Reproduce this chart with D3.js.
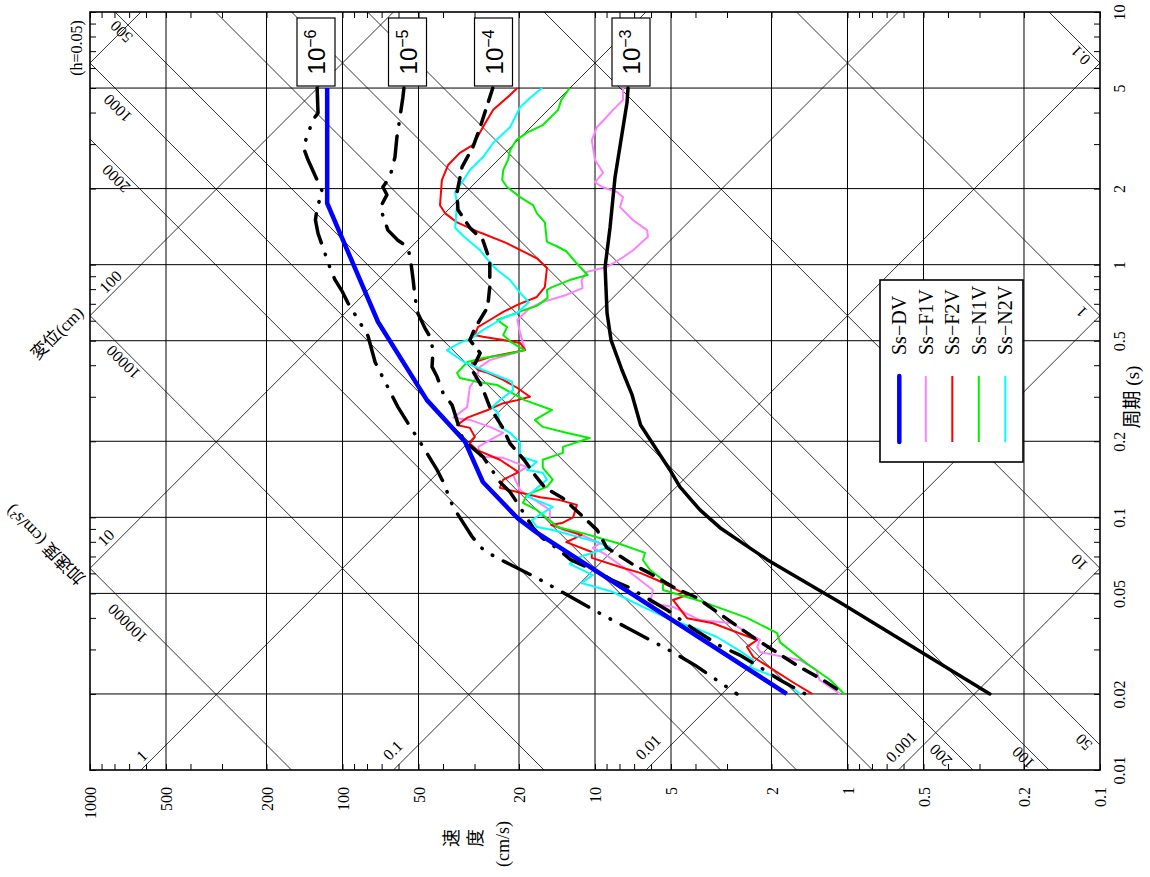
<!DOCTYPE html>
<html>
<head>
<meta charset="utf-8">
<script src="https://cdn.jsdelivr.net/npm/d3@7/dist/d3.min.js"></script>
<style>
  body { margin: 0; background: #fff; }
  text { font-family: "Liberation Serif", "Noto Sans CJK JP", serif; fill: #000; }
</style>
</head>
<body>
<svg id="spectrum" width="1150" height="877"></svg>
<script>
// period T (s) and pseudo velocity V (cm/s)
var periodTicks = [10, 5, 2, 1, 0.5, 0.2, 0.1, 0.05, 0.02, 0.01];
var velocityTicks = [1000, 500, 200, 100, 50, 20, 10, 5, 2, 1, 0.5, 0.2, 0.1];
var accelLines = [0.1, 1, 10, 50, 100, 200, 500, 1000, 2000, 10000, 100000];   // cm/s2
var dispLines = [0.001, 0.01, 0.1, 1, 10, 100, 1000];                        // cm

var seriesNames = ["Ss\u2212DV", "Ss\u2212F1V", "Ss\u2212F2V", "Ss\u2212N1V", "Ss\u2212N2V"];
var hazardNames = ["10\u22126", "10\u22125", "10\u22124", "10\u22123"];

var ssDV = [[5, 115], [1.75, 115], [0.593, 72.3], [0.291, 46.3], [0.199, 32.7], [0.138, 27.8],
  [0.099, 20.2], [0.087, 17.0], [0.02, 1.74]];

var ssF1V = [[5.00, 7.74], [4.49, 7.74], [4.10, 8.48], [3.50, 9.82], [3.11, 10.3], [2.60, 10.0], [2.31, 9.29],
  [2.12, 10.0], [2.03, 9.38], [1.94, 8.18], [1.85, 7.74], [1.69, 7.96], [1.50, 7.07], [1.37, 6.22], [1.29, 6.17],
  [1.14, 7.07], [1.07, 7.74], [0.98, 8.96], [0.935, 10.8], [0.869, 11.3], [0.808, 11.2], [0.759, 13.0],
  [0.712, 16.1], [0.675, 18.1], [0.604, 20.3], [0.536, 19.8], [0.459, 18.9], [0.419, 26.1], [0.394, 28.5],
  [0.360, 29.4], [0.328, 31.3], [0.273, 32.1], [0.248, 36.4], [0.243, 31.3], [0.228, 26.1], [0.216, 23.1],
  [0.202, 26.1], [0.190, 29.0], [0.174, 28.5], [0.172, 23.1], [0.158, 18.6], [0.147, 21.1], [0.128, 19.8],
  [0.107, 15.1], [0.0976, 15.1], [0.0891, 13.4], [0.0851, 11.3], [0.0791, 9.55], [0.0756, 10.2], [0.0723, 9.29],
  [0.0678, 8.48], [0.0636, 7.74], [0.0516, 5.90], [0.0458, 6.05], [0.0442, 4.91], [0.0392, 3.84], [0.0381, 2.85],
  [0.0358, 2.60], [0.0327, 2.22], [0.0307, 2.28], [0.0293, 2.22], [0.0272, 1.54], [0.0249, 1.33], [0.0227, 1.29],
  [0.02, 1.07]];

var ssF2V = [[5.00, 20.3], [4.69, 21.7], [4.10, 25.3], [3.50, 27.8], [2.98, 30.4], [2.77, 34.3], [2.48, 38.2],
  [2.16, 40.4], [1.72, 41.1], [1.60, 39.3], [1.47, 35.2], [1.34, 28.5], [1.22, 22.5], [1.06, 17.0], [0.97, 15.5],
  [0.815, 15.8], [0.745, 17.0], [0.693, 20.3], [0.650, 23.1], [0.604, 26.1], [0.566, 29.1], [0.527, 29.9],
  [0.518, 27.8], [0.503, 23.1], [0.490, 19.8], [0.459, 18.9], [0.447, 21.7], [0.431, 26.1], [0.408, 30.7],
  [0.383, 29.1], [0.373, 26.6], [0.350, 23.1], [0.325, 20.3], [0.300, 18.1], [0.291, 20.3], [0.283, 23.1],
  [0.266, 26.6], [0.248, 32.0], [0.232, 35.2], [0.226, 31.3], [0.208, 29.9], [0.196, 31.3], [0.185, 29.4],
  [0.169, 23.8], [0.151, 20.1], [0.141, 23.1], [0.131, 23.8], [0.126, 20.3], [0.120, 16.5], [0.117, 13.8],
  [0.112, 11.8], [0.100, 12.2], [0.0952, 13.4], [0.0933, 14.9], [0.0851, 11.3], [0.0798, 13.0], [0.0729, 10.3],
  [0.0691, 10.3], [0.0636, 7.96], [0.0603, 6.63], [0.0565, 5.68], [0.0493, 4.32], [0.0471, 4.91], [0.0399, 4.32],
  [0.0381, 3.41], [0.0327, 2.28], [0.0307, 2.50], [0.0280, 2.36], [0.0222, 1.64], [0.02, 1.38]];

var ssN1V = [[5.00, 12.6], [4.49, 13.6], [4.10, 14.0], [3.57, 16.1], [3.33, 18.6], [3.11, 20.5], [2.84, 21.7],
  [2.60, 22.1], [2.37, 23.1], [2.16, 23.3], [2.03, 22.3], [1.85, 19.8], [1.72, 17.6], [1.60, 17.0], [1.47, 15.8],
  [1.23, 15.5], [1.18, 14.1], [1.13, 13.0], [1.02, 11.9], [0.91, 10.7], [0.869, 12.6], [0.815, 14.8],
  [0.794, 15.5], [0.739, 15.4], [0.687, 17.0], [0.662, 19.0], [0.604, 24.4], [0.566, 22.3], [0.527, 23.1],
  [0.494, 21.5], [0.459, 19.0], [0.439, 23.1], [0.427, 27.8], [0.412, 32.0], [0.373, 35.2], [0.356, 34.3],
  [0.344, 29.4], [0.334, 24.4], [0.291, 19.0], [0.266, 14.8], [0.243, 17.3], [0.228, 16.1], [0.216, 13.0],
  [0.206, 10.5], [0.190, 13.4], [0.180, 13.4], [0.169, 16.1], [0.157, 16.1], [0.141, 14.7], [0.132, 15.5],
  [0.123, 18.6], [0.114, 19.3], [0.107, 17.0], [0.0916, 14.1], [0.0868, 11.3], [0.0791, 8.17], [0.0723, 6.34],
  [0.0678, 6.46], [0.0619, 6.05], [0.0565, 5.38], [0.0516, 5.38], [0.0463, 3.74], [0.0400, 2.50], [0.0348, 1.90],
  [0.0320, 1.85], [0.0264, 1.45], [0.0227, 1.17], [0.02, 1.03]];

var ssN2V = [[5.00, 16.2], [4.57, 18.1], [4.20, 19.8], [3.50, 21.7], [3.03, 25.3], [2.66, 27.8], [2.37, 31.3],
  [2.11, 33.7], [1.94, 35.8], [1.75, 35.2], [1.40, 35.8], [1.29, 33.0], [1.14, 28.5], [1.02, 26.1], [0.953, 24.4],
  [0.869, 21.7], [0.773, 19.8], [0.712, 18.3], [0.644, 20.3], [0.615, 23.1], [0.551, 27.8], [0.513, 30.7],
  [0.490, 34.3], [0.459, 38.6], [0.412, 33.0], [0.383, 27.8], [0.360, 23.8], [0.344, 21.3], [0.319, 21.1],
  [0.291, 23.8], [0.273, 25.6], [0.259, 24.2], [0.228, 23.8], [0.216, 21.7], [0.197, 19.8], [0.174, 19.8],
  [0.166, 17.0], [0.154, 18.6], [0.150, 16.1], [0.141, 15.5], [0.121, 18.6], [0.110, 14.7], [0.0976, 17.8],
  [0.0916, 17.0], [0.0891, 14.7], [0.0798, 9.81], [0.0763, 8.72], [0.0697, 11.5], [0.0654, 12.6], [0.0591, 10.2],
  [0.0550, 11.3], [0.0506, 8.48], [0.0442, 6.46], [0.0399, 5.18], [0.0358, 3.84], [0.0336, 3.29], [0.0296, 2.67],
  [0.0272, 2.36], [0.0255, 2.43], [0.0238, 2.03], [0.0222, 1.75], [0.02, 1.54]];

// uniform hazard spectra
var haz1e6 = [[5.00, 126], [3.98, 125], [3.74, 131], [2.92, 143], [2.60, 137], [1.94, 120], [1.69, 126],
  [1.50, 128], [1.33, 125], [0.97, 112], [0.87, 107], [0.78, 100], [0.706, 95.2], [0.523, 79.3], [0.412, 74.3],
  [0.376, 71.0], [0.273, 60.3], [0.222, 53.0], [0.202, 49.8], [0.154, 42.2], [0.138, 39.9], [0.110, 36.5],
  [0.084, 30.7], [0.0763, 28.5], [0.071, 25.6], [0.0666, 22.7], [0.0576, 17.0], [0.0506, 13.5], [0.041, 9.29],
  [0.0364, 7.40], [0.0294, 4.96], [0.026, 4.02], [0.02, 2.74]];

var haz1e5 = [[5.00, 57.1], [4.57, 57.7], [3.84, 59.2], [3.19, 60.9], [2.66, 62.0], [2.22, 64.9], [2.03, 69.2],
  [1.89, 66.7], [1.68, 71.0], [1.60, 69.7], [1.37, 66.1], [1.25, 60.4], [1.18, 55.5], [1.08, 54.0], [0.87, 52.5],
  [0.74, 51.6], [0.64, 50.2], [0.56, 47.1], [0.518, 45.0], [0.459, 43.8], [0.394, 44.2], [0.360, 42.2],
  [0.311, 40.0], [0.278, 36.8], [0.237, 35.0], [0.202, 33.3], [0.174, 27.8], [0.138, 23.8], [0.126, 21.7],
  [0.114, 20.3], [0.091, 17.6], [0.083, 16.2], [0.074, 13.8], [0.068, 12.5], [0.062, 10.2], [0.0565, 8.56],
  [0.053, 7.40], [0.043, 5.18], [0.0365, 4.13], [0.031, 3.20], [0.0285, 2.67], [0.0255, 2.22], [0.0227, 1.85],
  [0.02, 1.47]];

var haz1e4 = [[5.00, 25.4], [3.50, 28.5], [2.93, 30.4], [2.44, 33.6], [1.93, 35.2], [1.65, 34.9], [1.40, 31.3],
  [1.25, 27.8], [1.04, 26.1], [0.82, 26.1], [0.68, 26.6], [0.56, 29.9], [0.503, 31.3], [0.447, 28.5],
  [0.383, 30.7], [0.328, 28.0], [0.273, 26.1], [0.228, 23.3], [0.196, 21.7], [0.169, 19.1], [0.147, 17.3],
  [0.131, 15.8], [0.119, 13.4], [0.101, 11.2], [0.089, 9.8], [0.076, 9.0], [0.065, 7.06], [0.060, 6.05],
  [0.053, 4.91], [0.048, 3.94], [0.042, 3.26], [0.0327, 2.28], [0.0255, 1.54], [0.0227, 1.25], [0.02, 1.03]];

var haz1e3 = [[5.00, 7.40], [4.37, 7.47], [2.22, 8.33], [1.40, 8.72], [0.98, 9.12], [0.644, 8.96], [0.503, 8.64],
  [0.383, 7.82], [0.305, 7.13], [0.232, 6.60], [0.177, 5.53], [0.154, 5.05], [0.132, 4.61], [0.107, 3.84],
  [0.091, 3.20], [0.078, 2.55], [0.068, 2.08], [0.046, 1.07], [0.02, 0.273]];

var svg = d3.select("#spectrum"),
    margin = {top: 12, right: 50, bottom: 107, left: 90},
    width = +svg.attr("width") - margin.left - margin.right,
    height = +svg.attr("height") - margin.top - margin.bottom;

// the chart is laid on its side: velocity runs left to right (high to low), period bottom to top
var x = d3.scaleLog().domain([1000, 0.1]).range([0, width]),
    y = d3.scaleLog().domain([10, 0.01]).range([0, height]);

var fmt = d3.format("~g"),
    TWO_PI = 2 * Math.PI;

svg.append("defs").append("clipPath").attr("id", "plot-area")
  .append("rect").attr("width", width).attr("height", height);

var g = svg.append("g")
    .attr("transform", "translate(" + margin.left + "," + margin.top + ")");

// grid
g.append("g").selectAll("line")
  .data(velocityTicks.filter(function(d) { return d < 1000 && d > 0.1; }))
  .enter().append("line")
    .attr("x1", function(d) { return x(d); }).attr("x2", function(d) { return x(d); })
    .attr("y1", 0).attr("y2", height)
    .attr("stroke", "#000").attr("stroke-width", 1);

g.append("g").selectAll("line")
  .data(periodTicks.filter(function(d) { return d < 10 && d > 0.01; }))
  .enter().append("line")
    .attr("y1", function(d) { return y(d); }).attr("y2", function(d) { return y(d); })
    .attr("x1", 0).attr("x2", width)
    .attr("stroke", "#000").attr("stroke-width", 1);

// tripartite lines: constant acceleration A = 2*pi*V/T, constant displacement D = V*T/(2*pi)
var tEnds = [0.001, 100];
var diag = g.append("g").attr("clip-path", "url(#plot-area)")
    .attr("fill", "none").attr("stroke", "#000").attr("stroke-width", 0.8);

diag.selectAll(".acc").data(accelLines).enter().append("path")
    .attr("class", "acc")
    .attr("d", function(a) { return d3.line()(tEnds.map(function(t) { return [x(a * t / TWO_PI), y(t)]; })); });

diag.selectAll(".dsp").data(dispLines).enter().append("path")
    .attr("class", "dsp")
    .attr("d", function(dd) { return d3.line()(tEnds.map(function(t) { return [x(TWO_PI * dd / t), y(t)]; })); });

// where along each line its label sits (period), and the gap to the line
var accelLabelAt = [[500, 8.88, 9], [1000, 4.51, 12], [2000, 2.33, 9], [10000, 0.437, 9], [100000, 0.0412, 12],
  [0.1, 7.11, 8], [1, 0.695, 10], [10, 0.0709, 10], [50, 0.0137, 9], [100, 0.0119, 9], [200, 0.0124, 12]];
var dispLabelAt = [[100, 0.805, 9], [10, 0.0777, 10], [1, 0.0107, 9], [0.1, 0.0109, 14], [0.01, 0.0112, 14],
  [0.001, 0.01125, 14]];

var diagText = g.append("g").style("font-size", "16px");

diagText.selectAll(".accl").data(accelLabelAt).enter().append("text")
    .attr("transform", function(d) {
      return "translate(" + x(d[0] * d[1] / TWO_PI) + "," + y(d[1]) + ") rotate(225)";
    })
    .attr("text-anchor", "middle")
    .attr("dy", function(d) { return -(d[2] - 5) + "px"; })
    .text(function(d) { return fmt(d[0]); });

diagText.selectAll(".dspl").data(dispLabelAt).enter().append("text")
    .attr("transform", function(d) {
      return "translate(" + x(TWO_PI * d[0] / d[1]) + "," + y(d[1]) + ") rotate(-45)";
    })
    .attr("text-anchor", "middle")
    .attr("dy", function(d) { return -(d[2] - 5) + "px"; })
    .text(function(d) { return fmt(d[0]); });

// spectra
var line = d3.line()
    .x(function(d) { return x(d[1]); })
    .y(function(d) { return y(d[0]); });

var curves = g.append("g").attr("clip-path", "url(#plot-area)").attr("fill", "none")
    .attr("stroke-linejoin", "round");

var thin = [
  {data: ssF1V, color: "#ff80ff"},
  {data: ssF2V, color: "#ff0000"},
  {data: ssN1V, color: "#00f000"},
  {data: ssN2V, color: "#00ffff"}
];
curves.selectAll(".obs").data(thin).enter().append("path")
    .attr("class", "obs")
    .attr("d", function(d) { return line(d.data); })
    .attr("stroke", function(d) { return d.color; })
    .attr("stroke-width", 2);

var hazard = [
  {data: haz1e6, dash: "30,12,0.5,12,0.5,12"},
  {data: haz1e5, dash: "24,12,0.5,12"},
  {data: haz1e4, dash: "14,10"},
  {data: haz1e3, dash: null}
];
curves.selectAll(".uhs").data(hazard).enter().append("path")
    .attr("class", "uhs")
    .attr("d", function(d) { return line(d.data); })
    .attr("stroke", "#000")
    .attr("stroke-width", 3.5)
    .attr("stroke-linecap", "round")
    .attr("stroke-dasharray", function(d) { return d.dash; });

curves.append("path")
    .attr("d", line(ssDV))
    .attr("stroke", "#0000ff")
    .attr("stroke-width", 4.5);

// frame and inward ticks
g.append("rect").attr("width", width).attr("height", height)
    .attr("fill", "none").attr("stroke", "#000").attr("stroke-width", 1.6);

function ticksOnly(sel) {
  sel.select(".domain").remove();
  sel.selectAll(".tick line").attr("stroke", "#000").attr("stroke-width", 1);
}
g.append("g").attr("transform", "translate(0," + height + ")")
  .call(d3.axisTop(x).tickValues(x.ticks()).tickSize(6).tickFormat("")).call(ticksOnly);
g.append("g")
  .call(d3.axisBottom(x).tickValues(x.ticks()).tickSize(6).tickFormat("")).call(ticksOnly);
g.append("g")
  .call(d3.axisRight(y).tickValues(y.ticks()).tickSize(6).tickFormat("")).call(ticksOnly);
g.append("g").attr("transform", "translate(" + width + ",0)")
  .call(d3.axisLeft(y).tickValues(y.ticks()).tickSize(6).tickFormat("")).call(ticksOnly);

// tick labels
var xLab = g.append("g").attr("transform", "translate(0," + height + ")")
  .call(d3.axisBottom(x).tickValues(velocityTicks).tickSize(0).tickFormat(fmt));
xLab.select(".domain").remove();
xLab.attr("font-family", null).attr("font-size", null);
xLab.selectAll("text")
    .attr("transform", "rotate(-90)")
    .attr("x", -17).attr("y", 0).attr("dy", "0.35em")
    .attr("text-anchor", "end")
    .style("font-size", "16px");

var yLab = g.append("g").attr("transform", "translate(" + width + ",0)")
  .call(d3.axisRight(y).tickValues(periodTicks).tickSize(0).tickFormat(fmt));
yLab.select(".domain").remove();
yLab.attr("font-family", null).attr("font-size", null);
yLab.selectAll("text")
    .attr("transform", "rotate(-90)")
    .attr("x", 0).attr("y", 19).attr("dy", "0.35em")
    .attr("text-anchor", "middle")
    .style("font-size", "16px");

// axis titles
function rotText(px, py, angle, txt, size) {
  return g.append("text")
    .attr("transform", "translate(" + px + "," + py + ") rotate(" + angle + ")")
    .attr("text-anchor", "middle").attr("dy", "0.35em")
    .style("font-size", size + "px")
    .text(txt);
}
rotText(362, 826, -90, "速", 18);
rotText(386, 826, -90, "度", 18);
rotText(413, 832, -90, "(cm/s)", 18);
rotText(1042, 385, -90, "周期 (s)", 19);
rotText(-14, 36, -90, "(h=0.05)", 16);
rotText(-33, 321, -45, "変位(cm)", 17);
rotText(-45, 533, 225, "加速度 (cm/s²)", 17);

// exceedance probability tags above the hazard curves
var tagX = [226, 317.5, 403.5, 541];
var tags = g.append("g").selectAll("g").data(hazardNames).enter().append("g")
    .attr("transform", function(d, i) { return "translate(" + tagX[i] + ",40)"; });
tags.append("rect")
    .attr("x", -19).attr("y", -34).attr("width", 38).attr("height", 68)
    .attr("fill", "#fff").attr("stroke", "#000").attr("stroke-width", 1.2);
var tagText = tags.append("text")
    .attr("transform", "rotate(-90)")
    .attr("text-anchor", "middle")
    .attr("y", 9)
    .style("font-family", "'Liberation Sans', Arial, sans-serif");
tagText.append("tspan").style("font-size", "24px").text("10");
tagText.append("tspan").attr("dy", "-9").style("font-size", "16px")
    .text(function(d) { return d.slice(2); });

// legend
var legend = g.append("g").attr("transform", "translate(790,268)");
legend.append("rect").attr("width", 143).attr("height", 182)
    .attr("fill", "#fff").attr("stroke", "#000").attr("stroke-width", 1.6);
var legendColors = ["#0000ff", "#ff80ff", "#ff0000", "#00f000", "#00ffff"];
var items = legend.selectAll(".item").data(seriesNames).enter().append("g")
    .attr("class", "item")
    .attr("transform", function(d, i) { return "translate(" + (19.3 + i * 26.5) + ",0)"; });
items.append("text")
    .attr("transform", "translate(0,75) rotate(-90)")
    .attr("dy", "0.35em")
    .style("font-size", "20px")
    .text(function(d) { return d; });
items.append("line")
    .attr("y1", 96).attr("y2", 162)
    .attr("stroke", function(d, i) { return legendColors[i]; })
    .attr("stroke-width", function(d, i) { return i === 0 ? 4.5 : 2; })
    .attr("stroke-linecap", function(d, i) { return i === 0 ? "round" : "butt"; });
</script>
</body>
</html>
